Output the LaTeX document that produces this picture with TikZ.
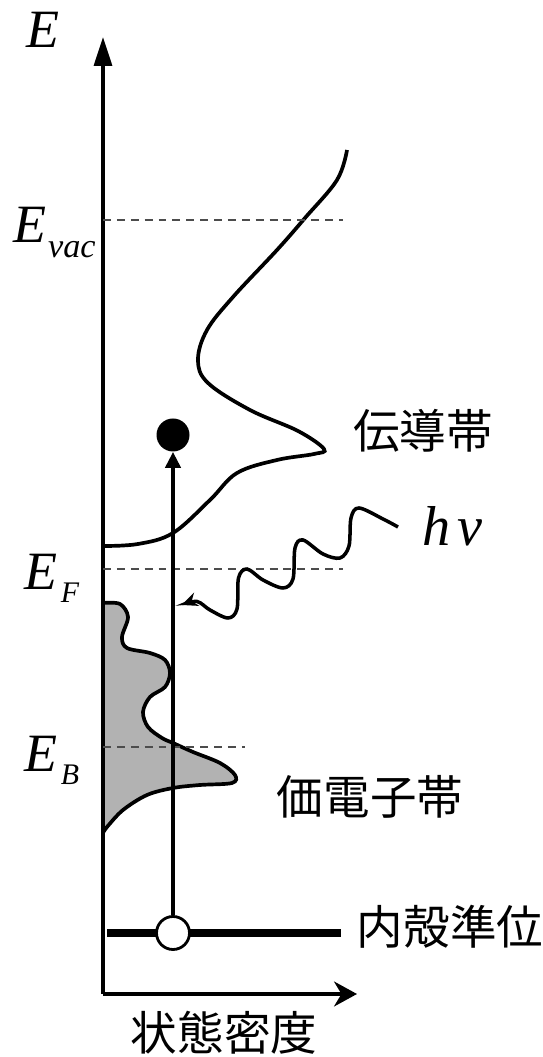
\documentclass[tikz,border=0pt]{standalone}
\usepackage{fontspec}
\setmainfont{Liberation Serif}
\newfontfamily\jpfont{Noto Sans CJK JP}
\usetikzlibrary{arrows.meta}

\definecolor{vbgray}{gray}{0.7}

\begin{document}
\begin{tikzpicture}[
            dosaxis/.style={
                line width=1.9pt
            },
            reflevel/.style={
                dash pattern=on 4.5pt off 3.4pt,
                line width=1.1pt,
                black!70
            },
            bandline/.style={
                line width=2.1pt
            },
            corelevel/.style={
                line width=4.6pt
            },
            transition/.style={
                line width=2.8pt,
                -{Triangle[length=0.32cm,width=0.3cm]}
            },
            photon/.style={
                line width=2pt,
                -{Stealth[length=0.32cm,width=0.28cm]}
            },
            elabel/.style={
                inner sep=0pt,
                anchor=base west
            },
            jplabel/.style={
                font=\jpfont\fontsize{26.5}{30}\selectfont
            }
        ]

% Parameters
            \def\yTop{19.14}
            \def\xEnd{5.08}
            \def\xMark{1.4}     % x of the transition
            \def\yVac{15.48}
            \def\yF{8.5}
            \def\yB{4.94}
            \def\yCore{1.22}

            \useasboundingbox (-2.06,-1.26) rectangle (8.78,19.88);

% Axes
            \coordinate (O) at (0,0);
            \coordinate (Etip) at (0,\yTop);
            \coordinate (Dtip) at (\xEnd,0);
            \draw[dosaxis, -{Triangle[length=0.58cm,width=0.36cm]}] (O) -- (Etip);
            \draw[dosaxis, -{Stealth[length=0.46cm,width=0.5cm]}] (O) -- (Dtip);

% Valence band (filled)
            \draw[bandline, fill=vbgray] plot[smooth, tension=0.55] coordinates {
                (0,7.82) (0.34,7.8) (0.5,7.54) (0.38,7.14) (0.48,6.92) (0.94,6.82)
                (1.24,6.68) (1.34,6.42) (1.24,6.14) (0.94,5.94) (0.8,5.64) (0.9,5.34)
                (1.18,5.12) (1.4,5.02) (1.8,4.84) (2.34,4.62) (2.64,4.38) (2.58,4.22)
                (1.94,4.18) (1.4,4.12) (0.88,3.98) (0.4,3.68) (0.08,3.34) (0,3.22)
            } -- cycle;

% Conduction band
            \draw[bandline] plot[smooth, tension=0.6] coordinates {
                (0,8.96) (0.7,9.0) (1.4,9.22) (2.14,9.88) (2.68,10.42)
                (3.48,10.68) (4.22,10.8) (4.42,10.9) (3.9,11.26) (2.94,11.68)
                (2.1,12.22) (1.9,12.68) (2.08,13.28) (2.6,13.94) (3.48,14.88)
                (4.04,15.52) (4.68,16.28) (4.88,16.88)
            };

% Reference levels
            \draw[reflevel] (0,\yVac) -- (4.8,\yVac);
            \draw[reflevel] (0,\yF) -- (4.8,\yF);
            \draw[reflevel] (0,\yB) -- (2.84,\yB);

% Core level, hole and excited electron
            \draw[corelevel] (0.08,\yCore) -- (4.76,\yCore);
            \node[circle, draw, fill=white, line width=1.6pt, minimum size=0.66cm, inner sep=0pt] (hole) at (\xMark,\yCore) {};
            \node[circle, fill=black, minimum size=0.66cm, inner sep=0pt] (elec) at (\xMark,11.18) {};
            \draw[transition] (hole) -- (elec);

% Photon
            \draw[photon] plot[smooth, tension=0.55] coordinates {
                (5.9,9.34) (5.6,9.5) (5.12,9.72) (4.96,9.52) (4.92,8.96) (4.74,8.72)
                (4.4,8.8) (4.0,9.08) (3.84,8.92) (3.8,8.3) (3.6,8.12) (3.2,8.28)
                (2.88,8.5) (2.71,8.32) (2.68,7.7) (2.5,7.52) (2.14,7.68) (1.88,7.85)
                (1.57,7.78)
            };

% Labels
            \node[font=\fontsize{30.7}{32}\selectfont\itshape] (lblE) at (-1.2,19.28) {E};
            \node[elabel] (lblVac) at (-1.8,15.02) {{\fontsize{30.7}{32}\selectfont\itshape E}\hspace{1pt}\raisebox{-8pt}{\fontsize{19.5}{21}\selectfont\itshape vac}};
            \node[elabel] (lblF) at (-1.58,8.08) {{\fontsize{30.7}{32}\selectfont\itshape E}\hspace{2pt}\raisebox{-7.4pt}{\fontsize{17}{19}\selectfont\itshape F}};
            \node[elabel] (lblB) at (-1.58,4.44) {{\fontsize{30.7}{32}\selectfont\itshape E}\hspace{2pt}\raisebox{-7.4pt}{\fontsize{17}{19}\selectfont\itshape B}};
            \node[elabel, font=\fontsize{32}{34}\selectfont\itshape] (hnu) at (6.38,8.96) {h\hspace{4pt}ν};

            \node[jplabel] (cb) at (6.4,11.26) {伝導帯};
            \node[jplabel] (vb) at (5.34,3.94) {価電子帯};
            \node[jplabel] (cl) at (6.94,1.34) {内殻準位};
            \node[jplabel] (dos) at (2.42,-0.78) {状態密度};

        \end{tikzpicture}
\end{document}
